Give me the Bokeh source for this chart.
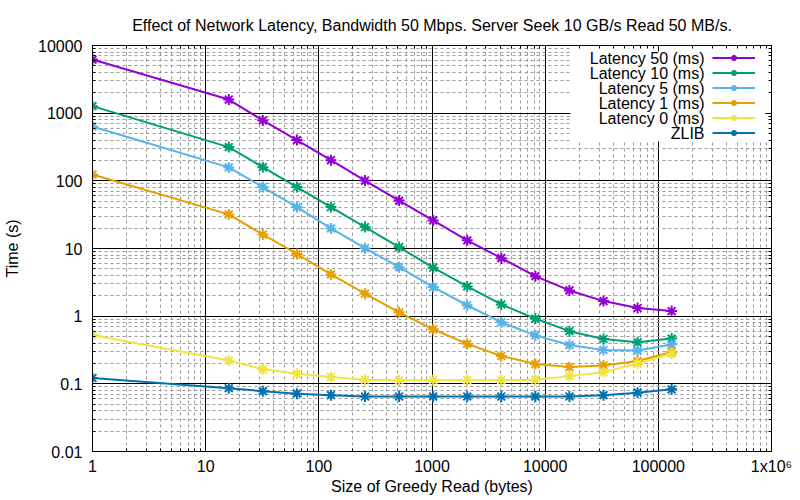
from bokeh.plotting import figure
from bokeh.models import (Range1d, FixedTicker, LogAxis, Legend, LegendItem,
                          Label, BoxAnnotation)
from bokeh.embed import file_html
from bokeh.resources import INLINE

# ---------------- data ----------------
read_size = [1, 16, 32, 64, 128, 256, 512, 1024, 2048, 4096, 8192,
             16384, 32768, 65536, 131072]

latency_50 = [6200, 1590, 780, 400, 202, 101, 51, 26, 13.2, 7.2, 3.9,
              2.4, 1.67, 1.32, 1.19]
latency_10 = [1270, 315, 159, 81, 41, 20.7, 10.5, 5.2, 2.75, 1.49, 0.92,
              0.60, 0.46, 0.41, 0.466]
latency_5 = [637, 158, 81, 41, 19.8, 10.1, 5.3, 2.69, 1.45, 0.81, 0.52,
             0.374, 0.316, 0.31, 0.38]
latency_1 = [124, 31.9, 16.1, 8.3, 4.14, 2.15, 1.14, 0.64, 0.39, 0.258,
             0.196, 0.177, 0.187, 0.217, 0.295]
latency_0 = [0.526, 0.222, 0.164, 0.141, 0.126, 0.115, 0.113, 0.113, 0.113,
             0.113, 0.115, 0.130, 0.148, 0.20, 0.279]
zlib = [0.122, 0.086, 0.078, 0.0716, 0.068, 0.065, 0.065, 0.065, 0.065,
        0.065, 0.065, 0.065, 0.068, 0.074, 0.083]

series_names = ["Latency 50 (ms)", "Latency 10 (ms)", "Latency 5 (ms)",
                "Latency 1 (ms)", "Latency 0 (ms)", "ZLIB"]
series_values = [latency_50, latency_10, latency_5, latency_1, latency_0, zlib]
series_colors = ["#9400d3", "#009e73", "#56b4e9", "#e69f00", "#f0e442", "#0072b2"]

x_ticks = [1, 10, 100, 1000, 10000, 100000, 1000000]
x_tick_labels = ["1", "10", "100", "1000", "10000", "100000", "1x10\u2076"]
y_ticks = [0.01, 0.1, 1, 10, 100, 1000, 10000]
y_tick_labels = ["0.01", "0.1", "1", "10", "100", "1000", "10000"]

title_text = "Effect of Network Latency, Bandwidth 50 Mbps. Server Seek 10 GB/s Read 50 MB/s."
x_label = "Size of Greedy Read (bytes)"
y_label = "Time (s)"

FONT = "Liberation Sans"
FS = "16px"

# ---------------- figure ----------------
p = figure(width=800, height=500, x_axis_type="log", y_axis_type="log",
           x_range=Range1d(1, 1e6), y_range=Range1d(0.01, 1e4),
           output_backend="svg", toolbar_location=None,
           min_border_left=92, min_border_right=29,
           min_border_top=45, min_border_bottom=49,
           title=title_text)

p.title.text_font = FONT
p.title.text_font_size = FS
p.title.text_font_style = "normal"
p.title.align = "center"
p.title.standoff = 24
p.title.text_color = "black"

p.outline_line_color = "black"
p.outline_line_width = 1
p.outline_line_alpha = 1
p.background_fill_color = "white"
p.border_fill_color = "white"

x_minor = [m * t for t in x_ticks[:-1] for m in range(2, 10)]
y_minor = [m * t for t in y_ticks[:-1] for m in range(2, 10)]
xticker = FixedTicker(ticks=x_ticks, minor_ticks=x_minor)
yticker = FixedTicker(ticks=y_ticks, minor_ticks=y_minor)


def style_axis(ax, show_labels=True):
    ax.axis_line_color = "black"
    ax.major_tick_line_color = "black"
    ax.minor_tick_line_color = "black"
    ax.major_tick_in = 6
    ax.major_tick_out = 0
    ax.minor_tick_in = 3
    ax.minor_tick_out = 0
    ax.major_label_text_font = FONT
    ax.major_label_text_color = "black"
    ax.axis_label_text_font = FONT
    ax.axis_label_text_font_size = FS
    ax.axis_label_text_font_style = "normal"
    ax.axis_label_text_color = "black"
    if show_labels:
        ax.major_label_text_font_size = FS
    else:
        ax.major_label_text_font_size = "6px"
        ax.major_label_text_alpha = 0
        ax.major_label_standoff = 0


xa = p.xaxis[0]
ya = p.yaxis[0]
xa.ticker = xticker
ya.ticker = yticker
xa.major_label_overrides = dict(zip(x_ticks, x_tick_labels))
ya.major_label_overrides = dict(zip(y_ticks, y_tick_labels))
style_axis(xa)
style_axis(ya)
xa.axis_label = x_label
ya.axis_label = y_label
xa.major_label_standoff = 6
ya.major_label_standoff = 10
xa.axis_label_standoff = 0
ya.axis_label_standoff = 14

top_ax = LogAxis(ticker=xticker)
style_axis(top_ax, show_labels=False)
top_ax.major_label_overrides = {t: "" for t in x_ticks}
p.add_layout(top_ax, "above")
right_ax = LogAxis(ticker=yticker)
style_axis(right_ax, show_labels=False)
right_ax.major_label_overrides = {t: "" for t in y_ticks}
p.add_layout(right_ax, "right")

p.xgrid.ticker = xticker
p.ygrid.ticker = yticker
for g in (p.xgrid[0], p.ygrid[0]):
    g.grid_line_color = "black"
    g.grid_line_width = 1
    g.grid_line_alpha = 1
    g.minor_grid_line_color = "#999999"
    g.minor_grid_line_dash = "3 3"
    g.minor_grid_line_width = 1

# opaque key background (covers the grid only)
key_bg = BoxAnnotation(left=478, right=678, bottom=310, top=405,
                       left_units="screen", right_units="screen",
                       bottom_units="screen", top_units="screen",
                       fill_color="white", fill_alpha=1, line_color=None,
                       level="underlay")
p.add_layout(key_bg)

items = []
for name, vals, col in zip(series_names, series_values, series_colors):
    rl = p.line(read_size, vals, line_color=col, line_width=2)
    rs = p.scatter(read_size, vals, marker="asterisk", size=11,
                   line_color=col, line_width=2)
    items.append(LegendItem(label=" ", renderers=[rl, rs]))

legend = Legend(items=items, location=(620, 311), orientation="vertical",
                glyph_width=43, glyph_height=15, label_width=0,
                label_height=15, label_standoff=0, padding=0, spacing=0,
                margin=0, label_text_font_size="8px",
                background_fill_alpha=0, border_line_color=None)
p.add_layout(legend)

for i, name in enumerate(series_names):
    lab = Label(x=612, y=393.5 - 15 * i, x_units="screen", y_units="screen",
                text=name, text_align="right", text_baseline="middle",
                text_font=FONT, text_font_size=FS, text_color="black")
    p.add_layout(lab)

open("out.html", "w").write(file_html(p, INLINE))
